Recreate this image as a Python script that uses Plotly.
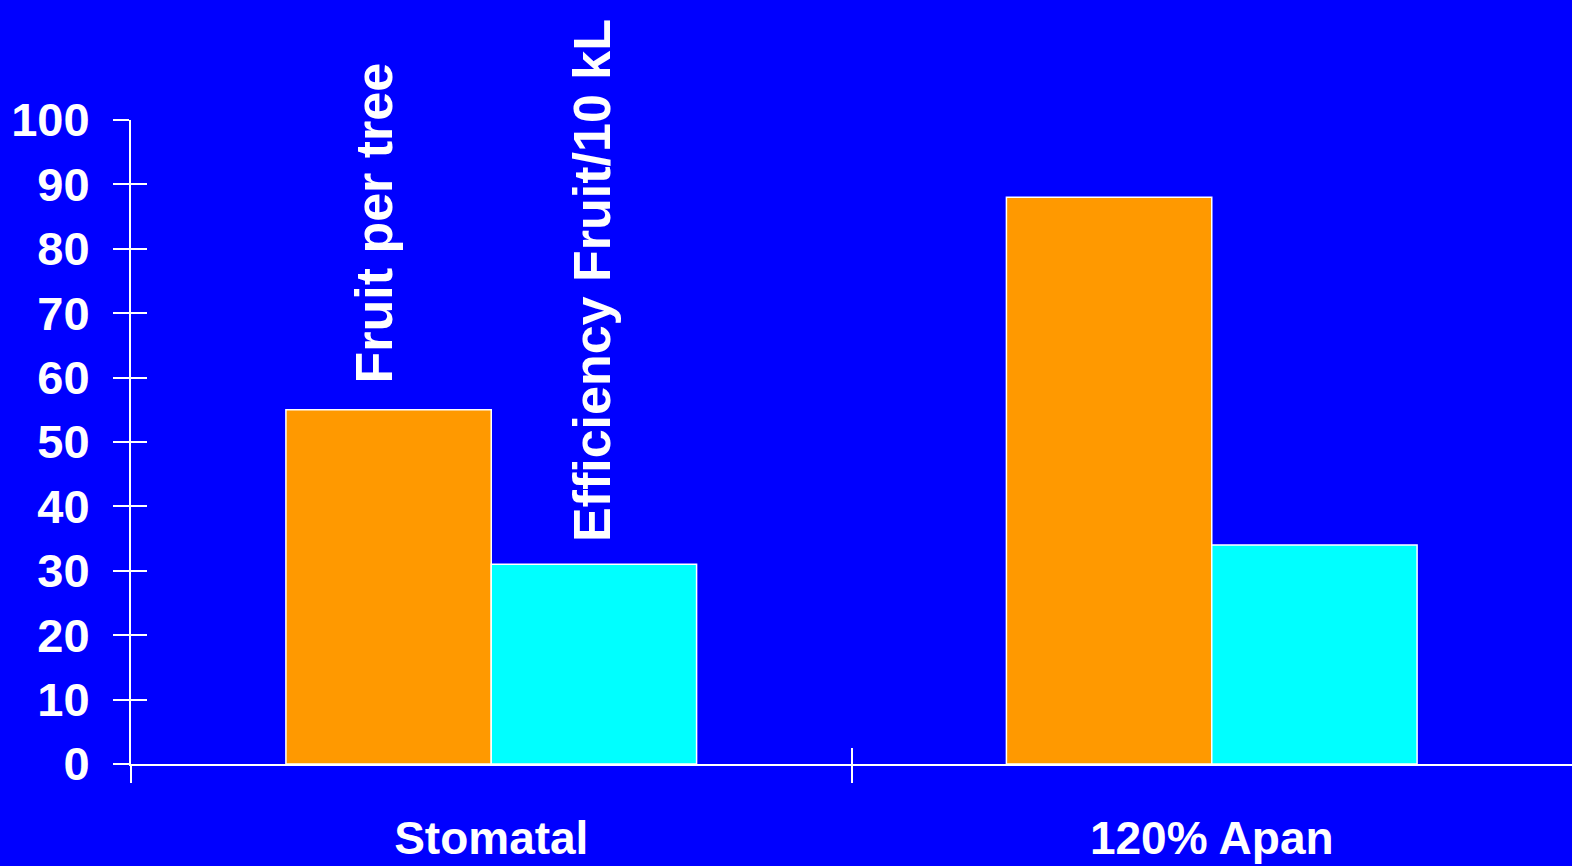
import plotly.graph_objects as go

categories = ["Stomatal", "120% Apan"]
fruit_per_tree = [55, 88]
efficiency = [31, 34]
series_names = ["Fruit per tree", "Efficiency Fruit/10 kL"]
y_ticks = [0, 10, 20, 30, 40, 50, 60, 70, 80, 90, 100]
x_boundaries = [-0.5, 0.5]

BG = "#0000FF"
ORANGE = "#FF9900"
CYAN = "#00FFFF"
FONT = "Liberation Sans, Arial, sans-serif"

fig = go.Figure()
fig.add_trace(go.Bar(x=categories, y=fruit_per_tree, name=series_names[0],
                     marker=dict(color=ORANGE, line=dict(color="white", width=1.5))))
fig.add_trace(go.Bar(x=categories, y=efficiency, name=series_names[1],
                     marker=dict(color=CYAN, line=dict(color="white", width=1.5))))
# helper traces for overlay axes (crossing tick marks)
fig.add_trace(go.Scatter(x=[], y=[], xaxis="x2", yaxis="y2", showlegend=False))
fig.add_trace(go.Scatter(x=[], y=[], xaxis="x3", yaxis="y3", showlegend=False))

tick_common = dict(tickcolor="white", showticklabels=False, showgrid=False,
                   zeroline=False, showline=False, automargin=False)

fig.update_layout(
    width=1572, height=866,
    paper_bgcolor=BG, plot_bgcolor=BG,
    margin=dict(l=131, r=0, t=120, b=102),
    barmode="group", bargap=0.43, bargroupgap=0,
    showlegend=False,
    font=dict(family=FONT, color="white", weight="bold"),
    xaxis=dict(type="category", range=[-0.5, 1.5], showline=True, linecolor="white", linewidth=2,
               ticks="", showgrid=False, zeroline=False, automargin=False,
               tickfont=dict(size=46, family=FONT, color="white", weight="bold"),
               ticklabelstandoff=33),
    yaxis=dict(range=[0, 100], tickvals=y_ticks, showline=True, linecolor="white", linewidth=2,
               ticks="outside", ticklen=16, tickwidth=2, tickcolor="white",
               showgrid=False, zeroline=False, automargin=False,
               tickfont=dict(size=47, family=FONT, color="white", weight="bold"),
               ticklabelstandoff=14),
    xaxis2=dict(overlaying="x", anchor="y2", range=[-0.5, 1.5], tickvals=x_boundaries,
                ticks="inside", ticklen=16, tickwidth=1.5, **tick_common),
    yaxis2=dict(overlaying="y", anchor="x2", range=[0, 100.01], tickvals=y_ticks,
                ticks="inside", ticklen=16, tickwidth=2, **tick_common),
    xaxis3=dict(overlaying="x", anchor="y3", range=[-0.5, 1.5], tickvals=x_boundaries,
                ticks="outside", ticklen=18, tickwidth=1.5, **tick_common),
    yaxis3=dict(overlaying="y", anchor="x3", range=[0, 100], showticklabels=False,
                ticks="", showgrid=False, zeroline=False, showline=False, automargin=False),
)

# vertical series labels above the first group's bars
fig.add_annotation(x=categories[0], y=fruit_per_tree[0], text=series_names[0], textangle=-90,
                   xanchor="center", yanchor="bottom", xshift=-117, yshift=24, showarrow=False,
                   font=dict(size=52, family=FONT, color="white", weight="bold"))
fig.add_annotation(x=categories[0], y=efficiency[0], text=series_names[1], textangle=-90,
                   xanchor="center", yanchor="bottom", xshift=101, yshift=20, showarrow=False,
                   font=dict(size=52, family=FONT, color="white", weight="bold"))

fig.write_html("out.html")
